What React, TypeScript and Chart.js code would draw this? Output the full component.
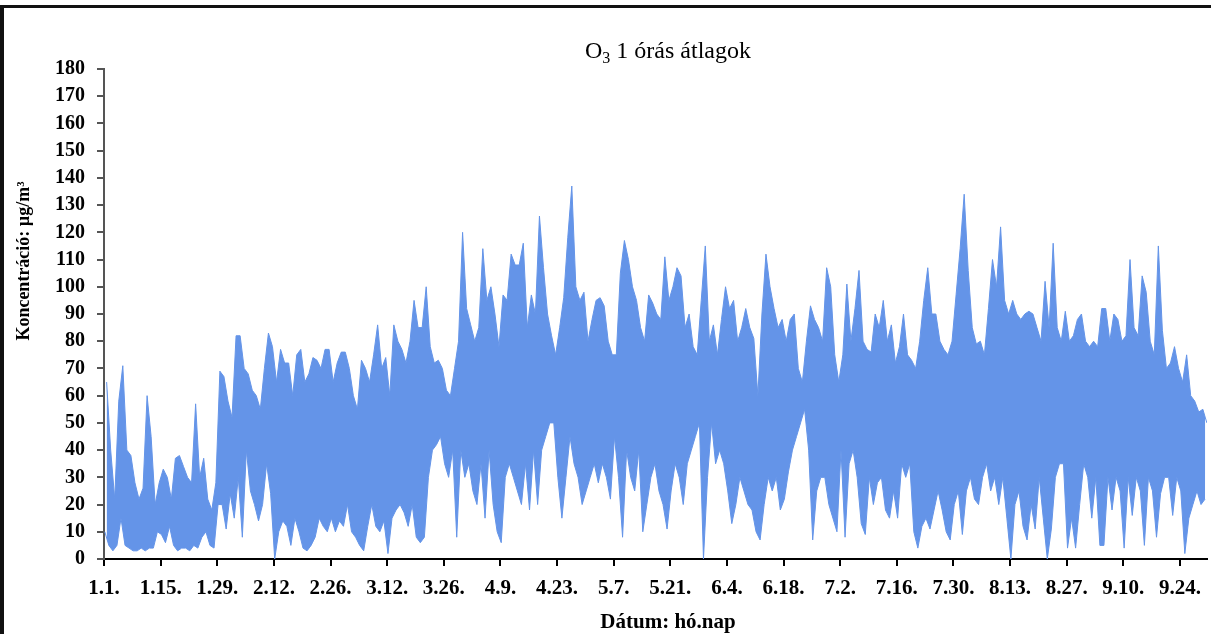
import React, { useEffect, useRef } from "react";
import { Chart, registerables } from "chart.js";

Chart.register(...registerables);

// Day index 0 = 1 January; daily low and daily high of the hourly series
const DAILY_LOW: number[] = [
  10, 5, 3, 5, 15, 5, 4, 3, 3, 4,
  3, 4, 4, 10, 9, 6, 12, 5, 3, 4,
  4, 3, 5, 4, 8, 10, 5, 4, 20, 20,
  11, 24, 15, 30, 8, 40, 25, 20, 14, 20,
  35, 24, 0, 10, 14, 12, 5, 15, 10, 4,
  3, 5, 8, 15, 12, 10, 15, 10, 14, 12,
  20, 10, 8, 5, 3, 12, 20, 12, 10, 14,
  2, 15, 18, 20, 17, 12, 20, 8, 6, 8,
  30, 40, 42, 45, 35, 30, 40, 8, 40, 30,
  35, 25, 20, 35, 15, 40, 20, 10, 6, 30,
  35, 30, 25, 20, 35, 18, 40, 20, 40, 45,
  50, 50, 30, 15, 30, 45, 35, 30, 20, 25,
  30, 35, 28, 35, 30, 22, 45, 30, 8, 40,
  30, 25, 40, 10, 20, 30, 35, 25, 20, 11,
  25, 35, 30, 20, 35, 40, 45, 50, 0, 30,
  50, 35, 40, 35, 25, 13, 20, 30, 25, 20,
  18, 10, 7, 20, 30, 25, 30, 18, 22, 32,
  40, 45, 50, 55, 40, 7, 25, 30, 30, 20,
  15, 10, 40, 8, 35, 40, 30, 13, 9, 30,
  20, 28, 30, 18, 15, 25, 15, 35, 30, 35,
  10, 4, 12, 15, 11, 18, 25, 18, 10, 7,
  20, 25, 9, 25, 30, 22, 20, 30, 35, 25,
  30, 20, 30, 15, 0, 20, 25, 12, 7, 20,
  11, 30, 15, 0, 11, 30, 35, 35, 4, 15,
  4, 20, 35, 30, 15, 30, 5, 5, 30, 18,
  30, 25, 4, 30, 16, 30, 25, 5, 30, 25,
  8, 24, 30, 30, 16, 30, 25, 2, 15, 20,
  25, 20, 22,
];

const DAILY_HIGH: number[] = [
  65, 40, 22, 58, 71, 40, 38, 28, 22, 26,
  60, 45, 20, 28, 33, 30, 22, 37, 38, 34,
  30, 28, 57, 30, 37, 22, 18, 28, 69, 67,
  58, 52, 82, 82, 70, 68, 62, 60, 55, 70,
  83, 78, 65, 77, 72, 72, 60, 75, 77, 65,
  68, 74, 73, 70, 77, 77, 65, 72, 76, 76,
  70, 60, 55, 73, 70, 65, 75, 86, 70, 74,
  60, 86, 80, 77, 72, 80, 95, 85, 85, 100,
  78, 72, 73, 70, 62, 60, 70, 80, 120, 92,
  86, 80, 85, 114, 95, 100, 90, 78, 97, 95,
  112, 108, 108, 116, 85, 97, 90, 126, 107, 90,
  82, 75, 85, 96, 118, 137, 100, 95, 98, 80,
  88, 95, 96, 93, 80, 75, 75, 105, 117, 110,
  100, 95, 85, 80, 97, 94, 90, 88, 111, 95,
  100, 107, 104, 85, 90, 78, 75, 95, 115, 80,
  86, 75, 88, 100, 92, 95, 80, 85, 92, 85,
  81, 60, 90, 112, 100, 92, 85, 88, 80, 88,
  90, 70, 65, 80, 93, 88, 85, 80, 107, 100,
  75, 65, 75, 101, 80, 92, 106, 80, 77, 76,
  90, 85, 95, 80, 86, 72, 78, 90, 75, 73,
  70, 80, 95, 107, 90, 90, 80, 77, 75, 80,
  97, 114, 134, 106, 85, 79, 80, 75, 92, 110,
  100, 122, 95, 90, 95, 90, 88, 90, 91, 90,
  85, 80, 102, 85, 116, 85, 80, 91, 80, 82,
  88, 90, 80, 78, 80, 78, 92, 92, 80, 90,
  88, 80, 82, 110, 85, 82, 104, 98, 80, 75,
  115, 84, 70, 72, 78, 70, 65, 75, 60, 58,
  54, 55, 50,
];

const X_TICK_DAYS: number[] = [0, 14, 28, 42, 56, 70, 84, 98, 112, 126, 140, 154, 168, 182, 196, 210, 224, 238, 252, 266];
const X_TICK_LABELS: string[] = [
  "1.1.", "1.15.", "1.29.", "2.12.", "2.26.", "3.12.", "3.26.", "4.9.", "4.23.", "5.7.",
  "5.21.", "6.4.", "6.18.", "7.2.", "7.16.", "7.30.", "8.13.", "8.27.", "9.10.", "9.24.",
];

const TITLE_MAIN = "O";
const TITLE_SUB = "3";
const TITLE_REST = " 1 órás átlagok";
const Y_TITLE = "Koncentráció: µg/m³";
const X_TITLE = "Dátum: hó.nap";

const SERIF = '"Liberation Serif", "DejaVu Serif", serif';
const BLUE = "rgb(100,148,232)";

const decorPlugin = {
  id: "decor",
  afterDraw(chart: any) {
    const ctx = chart.ctx as CanvasRenderingContext2D;
    ctx.save();
    ctx.fillStyle = "#111";
    ctx.fillRect(0, 5, 4, 629);
    ctx.fillRect(0, 5, 1211, 3);
    ctx.fillStyle = "#000";
    ctx.textBaseline = "alphabetic";
    const big = `24px ${SERIF}`;
    const small = `16px ${SERIF}`;
    ctx.font = big;
    const wMain = ctx.measureText(TITLE_MAIN).width;
    const wRest = ctx.measureText(TITLE_REST).width;
    ctx.font = small;
    const wSub = ctx.measureText(TITLE_SUB).width;
    const total = wMain + wSub + wRest;
    let x = 668 - total / 2;
    const base = 58;
    ctx.font = big;
    ctx.fillText(TITLE_MAIN, x, base);
    x += wMain;
    ctx.font = small;
    ctx.fillText(TITLE_SUB, x, base + 5);
    x += wSub;
    ctx.font = big;
    ctx.fillText(TITLE_REST, x, base);
    ctx.font = `bold 21px ${SERIF}`;
    ctx.textAlign = "center";
    ctx.fillText(X_TITLE, 668, 628);
    ctx.translate(29, 261);
    ctx.rotate(-Math.PI / 2);
    ctx.font = `bold 18px ${SERIF}`;
    ctx.fillText(Y_TITLE, 0, 0);
    ctx.restore();
  },
};

export default function App() {
  const ref = useRef<HTMLCanvasElement | null>(null);

  useEffect(() => {
    if (!ref.current) return;
    const lows = DAILY_LOW.map((v, d) => ({ x: d + 0.2, y: v }));
    const highs = DAILY_HIGH.map((v, d) => ({ x: d + 0.65, y: v }));

    const chart = new Chart(ref.current, {
      type: "line",
      data: {
        datasets: [
          {
            data: lows,
            borderColor: BLUE,
            borderWidth: 1,
            pointRadius: 0,
            tension: 0,
            fill: false,
          },
          {
            data: highs,
            borderColor: BLUE,
            backgroundColor: BLUE,
            borderWidth: 1,
            pointRadius: 0,
            tension: 0,
            fill: "-1",
          },
        ],
      },
      options: {
        responsive: false,
        animation: false,
        layout: { padding: { top: 69, right: 1, bottom: 0, left: 0 } },
        plugins: { legend: { display: false }, tooltip: { enabled: false }, title: { display: false } },
        scales: {
          x: {
            type: "linear",
            min: 0,
            max: 272.7,
            afterFit: (s: any) => {
              s.height = 75;
            },
            afterBuildTicks: (s: any) => {
              s.ticks = X_TICK_DAYS.map((v) => ({ value: v }));
            },
            ticks: {
              autoSkip: false,
              maxRotation: 0,
              padding: 10,
              color: "#000",
              font: { family: SERIF, size: 21, weight: "bold" },
              callback: (_v: any, i: number) => X_TICK_LABELS[i],
            },
            grid: { display: true, drawOnChartArea: false, tickLength: 7, color: "#000", lineWidth: 2 },
            border: { display: true, color: "#000", width: 2 },
          },
          y: {
            min: 0,
            max: 180,
            afterFit: (s: any) => {
              s.width = 104;
            },
            ticks: {
              stepSize: 10,
              autoSkip: false,
              padding: 12,
              color: "#000",
              font: { family: SERIF, size: 20, weight: "bold" },
            },
            grid: { display: true, drawOnChartArea: false, tickLength: 7, color: "#555", lineWidth: 2 },
            border: { display: true, color: "#555", width: 2 },
          },
        },
      },
      plugins: [decorPlugin],
    });
    return () => chart.destroy();
  }, []);

  return (
    <div style={{ position: "absolute", left: 0, top: 0, width: 1211, height: 634, background: "#fff" }}>
      <canvas ref={ref} width={1211} height={634} style={{ display: "block" }} />
    </div>
  );
}
